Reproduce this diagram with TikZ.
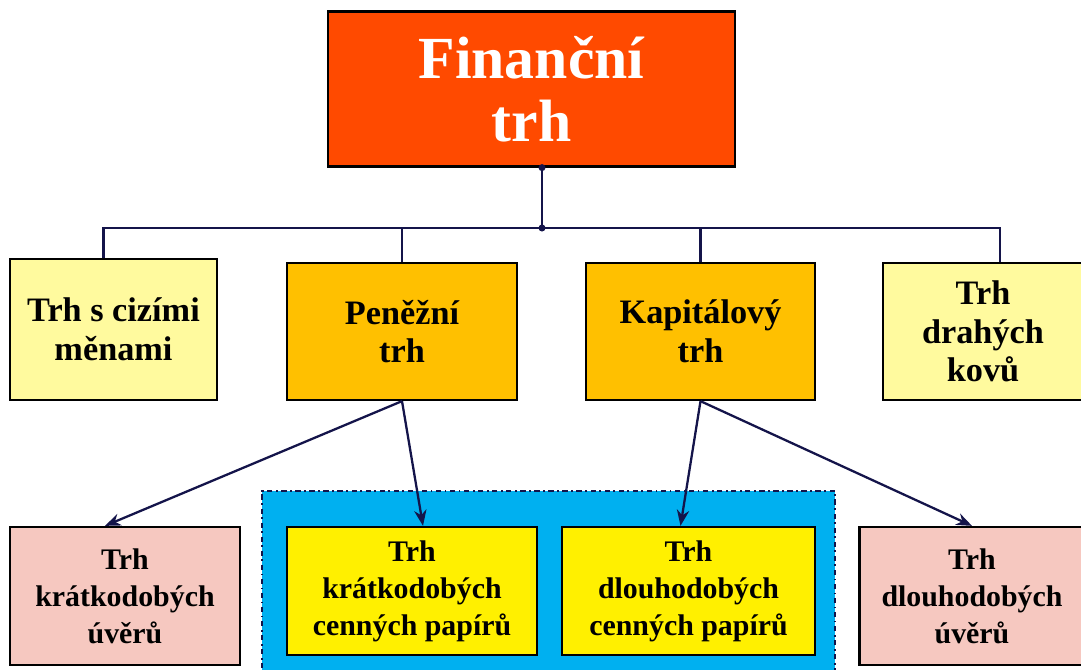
\documentclass[tikz,border=0pt]{standalone}
\usepackage{fontspec}
\setmainfont{Liberation Serif}
\usetikzlibrary{shapes,arrows,arrows.meta,positioning}

\definecolor{ruda}{HTML}{FF4A00}
\definecolor{oranz}{HTML}{FFC000}
\definecolor{svetlezluta}{HTML}{FFFA9E}
\definecolor{zluta}{HTML}{FFF000}
\definecolor{ruzova}{HTML}{F6C8C0}
\definecolor{modra}{HTML}{00B0F0}
\definecolor{linka}{HTML}{14144A}

\begin{document}
\begin{tikzpicture}[auto]
    \tikzstyle{block} = [rectangle, draw=black, line width=1.3pt, align=center, inner sep=0pt, font=\bfseries\fontsize{19.5}{22}\selectfont]
    \tikzstyle{small} = [block, font=\bfseries\fontsize{17}{21}\selectfont]
    \tikzstyle{tree} = [draw=linka, line width=1.3pt]
    \tikzstyle{line} = [draw=linka, line width=1.3pt, -{Stealth[length=9pt,width=7pt]}]

    \useasboundingbox (0,0) rectangle (21.62,13.4);

    % skupina cennych papiru
    \node[rectangle, draw=linka, line width=1pt, dash dot, fill=modra, minimum width=11.46cm, minimum height=4.0cm, anchor=north] (cenne) at (10.97,3.6) {};

    \node[block, fill=ruda, text=white, minimum width=8.14cm, minimum height=3.1cm, font=\bfseries\fontsize{34}{36}\selectfont] (financni) at (10.63,11.62) {Finanční\\trh};

    \node[block, fill=svetlezluta, minimum width=4.14cm, minimum height=2.82cm] (cizi) at (2.27,6.81) {Trh s cizími\\měnami};
    \node[block, fill=oranz, minimum width=4.6cm, minimum height=2.74cm] (penezni) at (8.04,6.77) {Peněžní\\trh};
    \node[block, fill=oranz, minimum width=4.58cm, minimum height=2.74cm] (kapitalovy) at (14.01,6.77) {Kapitálový\\trh};
    \node[block, fill=svetlezluta, minimum width=4.0cm, minimum height=2.74cm] (kovy) at (19.66,6.77) {Trh\\drahých\\kovů};

    \node[small, fill=ruzova, minimum width=4.6cm, minimum height=2.76cm] (kruvery) at (2.5,1.48) {Trh\\krátkodobých\\úvěrů};
    \node[small, fill=zluta, minimum width=5.0cm, minimum height=2.56cm] (krpapiry) at (8.24,1.58) {Trh\\krátkodobých\\cenných papírů};
    \node[small, fill=zluta, minimum width=5.06cm, minimum height=2.56cm] (dlpapiry) at (13.77,1.58) {Trh\\dlouhodobých\\cenných papírů};
    \node[small, fill=ruzova, minimum width=4.5cm, minimum height=2.76cm] (dluvery) at (19.44,1.48) {Trh\\dlouhodobých\\úvěrů};

    % strom
    \coordinate (bus) at (10.84,8.84);
    \path[tree] (financni.south -| bus) -- (bus);
    \path[tree] (bus) -| ([xshift=-0.2cm]cizi.north);
    \path[tree] (bus) -| (penezni.north);
    \path[tree] (bus) -| (kapitalovy.north);
    \path[tree] (bus) -| ([xshift=0.34cm]kovy.north);
    \fill[linka] (bus) circle (2pt);
    \fill[linka] (financni.south -| bus) circle (2pt);

    \path[line] (penezni.south) -- ([xshift=-0.4cm]kruvery.north);
    \path[line] (penezni.south) -- ([xshift=0.22cm]krpapiry.north);
    \path[line] (kapitalovy.south) -- ([xshift=-0.16cm]dlpapiry.north);
    \path[line] (kapitalovy.south) -- (dluvery.north);
\end{tikzpicture}
\end{document}
